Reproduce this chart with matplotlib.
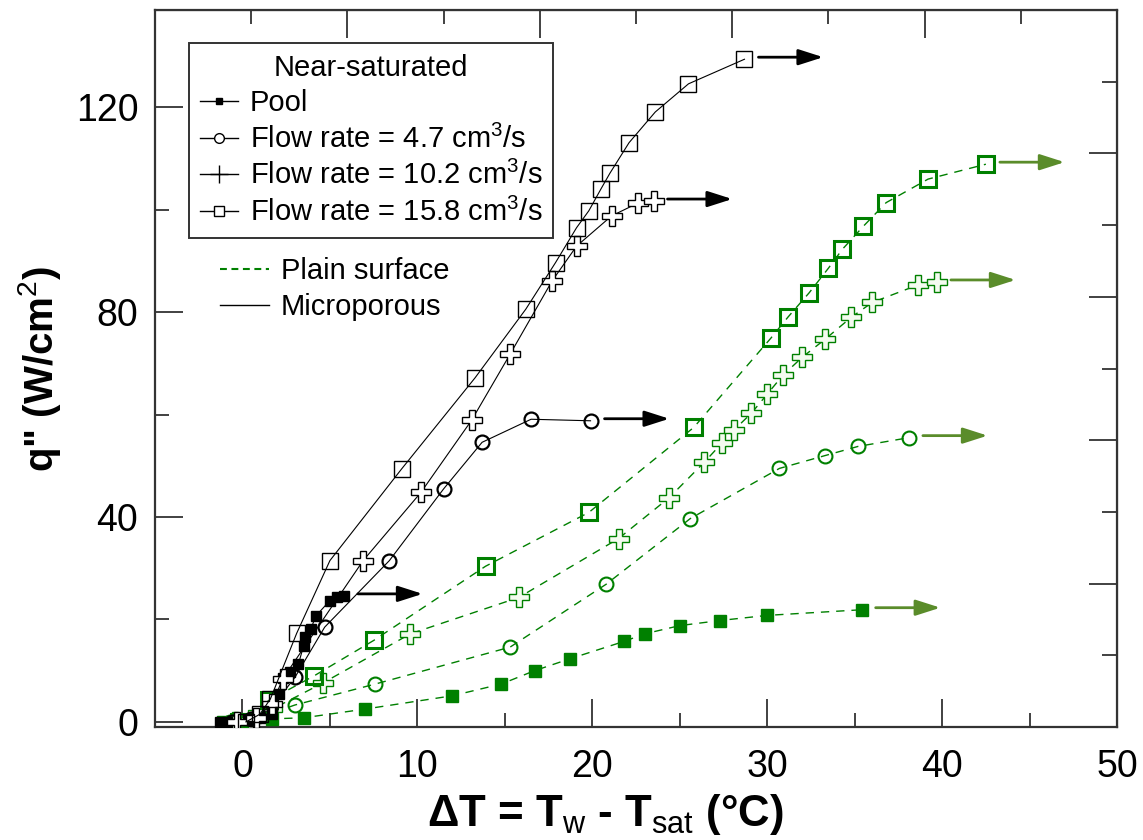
import matplotlib

matplotlib.use("Agg")

import matplotlib.pyplot as plt
from matplotlib.lines import Line2D
import numpy as np

plt.rcParams["font.family"] = ["Liberation Sans", "DejaVu Sans"]
plt.rcParams["mathtext.fontset"] = "custom"
plt.rcParams["mathtext.rm"] = "Liberation Sans"
plt.rcParams["mathtext.default"] = "rm"

# microporous surface (black, solid)
pool_mp_x = [-1.3, -0.9, 0.3, 1.0, 1.7, 2.1, 2.3, 2.7, 3.2, 3.5, 3.6, 3.9, 4.2, 5.0, 5.4, 5.8]
pool_mp_y = [0.0, 0.0, 0.3, 0.8, 1.5, 5.5, 8.6, 9.8, 11.3, 14.9, 16.5, 18.1, 20.7, 23.7, 24.3, 24.6]

f47_mp_x = [-0.6, 0.5, 1.6, 3.0, 4.7, 8.4, 11.5, 13.7, 16.5, 19.9]
f47_mp_y = [0.0, 0.5, 2.5, 8.7, 18.5, 31.5, 45.5, 54.6, 59.1, 58.8]

f102_mp_x = [-0.3, 0.8, 1.7, 2.3, 6.9, 10.2, 13.1, 15.3, 17.7, 19.1, 21.1, 22.6, 23.5]
f102_mp_y = [0.0, 0.8, 3.5, 8.4, 31.5, 44.8, 58.9, 71.8, 86.1, 92.9, 98.8, 101.3, 101.7]

f158_mp_x = [0.2, 1.0, 1.6, 3.1, 5.0, 9.1, 13.3, 16.2, 17.9, 19.1, 19.8, 20.5, 21.0,
             22.1, 23.6, 25.5, 28.7]
f158_mp_y = [0.0, 1.5, 4.5, 17.3, 31.5, 49.4, 67.2, 80.6, 89.7, 96.5, 99.8, 104.1, 107.1,
             113.1, 119.1, 124.6, 129.4]

# plain surface (green, dashed)
pool_pl_x = [-1.1, -0.6, 0.4, 1.7, 3.5, 7.0, 12.0, 14.8, 16.7, 18.7, 21.8, 23.0, 25.0, 27.3, 30.0, 35.4]
pool_pl_y = [0.0, 0.0, 0.1, 0.6, 0.8, 2.5, 5.1, 7.4, 10.0, 12.3, 15.7, 17.2, 18.8, 19.8, 20.8, 21.9]

f47_pl_x = [-0.7, 0.1, 1.5, 3.0, 7.6, 15.3, 20.8, 25.6, 30.7, 33.3, 35.2, 38.1]
f47_pl_y = [0.0, 0.2, 1.5, 3.3, 7.4, 14.6, 26.9, 39.7, 49.5, 52.0, 53.8, 55.5]

f102_pl_x = [-0.4, 0.5, 1.7, 4.6, 9.6, 15.8, 21.5, 24.4, 26.4, 27.4, 28.1, 29.1, 30.0,
             30.9, 32.0, 33.3, 34.8, 36.0, 38.6, 39.7]
f102_pl_y = [0.0, 0.3, 2.5, 7.6, 17.2, 24.3, 35.8, 43.8, 50.7, 54.4, 57.0, 60.3, 64.0,
             67.7, 71.2, 74.7, 79.0, 81.9, 85.3, 85.9]

f158_pl_x = [-0.2, 0.3, 1.5, 4.1, 7.5, 13.9, 19.8, 25.8, 30.2, 31.2, 32.4, 33.5, 34.3,
             35.5, 36.8, 39.2, 42.5]
f158_pl_y = [0.0, 0.0, 4.2, 9.0, 15.9, 30.4, 40.9, 57.5, 74.9, 79.1, 83.8, 88.6, 92.3,
             96.8, 101.4, 106.0, 108.9]

legend_labels = ["Pool", "Flow rate = 4.7 cm$^3$/s", "Flow rate = 10.2 cm$^3$/s",
                 "Flow rate = 15.8 cm$^3$/s"]

GREEN = "#008000"
ARROW_GREEN = "#5a8c2a"

fig = plt.figure(figsize=(11.43, 8.4), dpi=100)
ax = fig.add_axes([0.1356, 0.1345, 0.8417, 0.8535])

dash = (0, (6, 5))

# plain surface curves
ax.plot(pool_pl_x, pool_pl_y, color=GREEN, lw=1.0, ls=dash, marker="s", ms=8,
        mfc=GREEN, mec=GREEN, zorder=3)
ax.plot(f47_pl_x, f47_pl_y, color=GREEN, lw=1.0, ls=dash, marker="o", ms=10,
        mfc="none", mec=GREEN, mew=1.5, zorder=3)
ax.plot(f102_pl_x, f102_pl_y, color=GREEN, lw=1.0, ls=dash, marker="P", ms=14,
        mfc="#f4fbf0", mec=GREEN, mew=1.0, zorder=3)
ax.plot(f158_pl_x, f158_pl_y, color=GREEN, lw=1.0, ls=dash, marker="s", ms=11,
        mfc="none", mec=GREEN, mew=2.2, zorder=3)

# microporous curves
ax.plot(pool_mp_x, pool_mp_y, color="black", lw=0.8, marker="s", ms=7.5,
        mfc="black", mec="black", zorder=4)
ax.plot(f47_mp_x, f47_mp_y, color="black", lw=0.8, marker="o", ms=10,
        mfc="none", mec="black", mew=1.6, zorder=4)
ax.plot(f102_mp_x, f102_mp_y, color="black", lw=0.8, marker="P", ms=14,
        mfc="white", mec="black", mew=1.0, zorder=4)
ax.plot(f158_mp_x, f158_mp_y, color="black", lw=0.8, marker="s", ms=11,
        mfc="none", mec="black", mew=1.0, zorder=4)

# arrows after the last point of each curve
for xs, ys, col in [
    (pool_mp_x, pool_mp_y, "black"), (f47_mp_x, f47_mp_y, "black"),
    (f102_mp_x, f102_mp_y, "black"), (f158_mp_x, f158_mp_y, "black"),
    (pool_pl_x, pool_pl_y, ARROW_GREEN), (f47_pl_x, f47_pl_y, ARROW_GREEN),
    (f102_pl_x, f102_pl_y, ARROW_GREEN), (f158_pl_x, f158_pl_y, ARROW_GREEN),
]:
    x0 = xs[-1] + 0.8
    y0 = ys[-1] + 0.4
    ax.annotate("", xy=(x0 + 3.7, y0), xytext=(x0, y0),
                arrowprops=dict(arrowstyle="-|>,head_length=0.75,head_width=0.24",
                                color=col, lw=2.0, mutation_scale=20,
                                shrinkA=0, shrinkB=0), zorder=5)

ax.set_xlim(-5, 50)
ax.set_ylim(-1, 139)

ax.set_xticks(np.arange(0, 51, 10))
ax.set_xticks(np.arange(5, 50, 10), minor=True)
ax.set_yticks([0, 40, 80, 120])
ax.set_yticks([20, 60, 100], minor=True)
ax.tick_params(which="both", direction="in", width=1.3, color="#333333",
               labelsize=27, top=False, right=False)
ax.tick_params(which="major", length=20)
ax.tick_params(which="minor", length=10)
ax.tick_params(axis="x", pad=16)
ax.tick_params(axis="y", pad=12)

for sp in ax.spines.values():
    sp.set_linewidth(1.6)
    sp.set_color("#333333")

# top and right axes carry their own tick scale
top = ax.secondary_xaxis("top")
top.set_xticks(np.arange(-5, 51, 11))
top.set_xticks(np.arange(0.5, 50, 11), minor=True)
top.tick_params(which="both", direction="in", width=1.3, color="#333333",
                labeltop=False)
top.tick_params(which="major", length=20)
top.tick_params(which="minor", length=10)

right = ax.secondary_yaxis("right")
right.set_yticks(np.arange(-1, 140, 28))
right.set_yticks(np.arange(13, 139, 28), minor=True)
right.tick_params(which="both", direction="in", width=1.3, color="#333333",
                  labelright=False)
right.tick_params(which="major", length=20)
right.tick_params(which="minor", length=10.5)

ax.set_xlabel("ΔT = T$_{w}$ - T$_{sat}$ (°C)", fontsize=31.5, fontweight="bold")
ax.xaxis.set_label_coords(0.468, -0.09)
ax.set_ylabel('q" (W/cm$^{2}$)', fontsize=29, fontweight="bold", labelpad=9)

handles = [
    Line2D([], [], color="black", lw=1.0, marker="s", ms=5, mfc="black"),
    Line2D([], [], color="black", lw=1.0, marker="o", ms=7, mfc="white", mew=1.0),
    Line2D([], [], color="black", lw=1.0, marker="+", ms=13, mew=1.0),
    Line2D([], [], color="black", lw=1.0, marker="s", ms=7, mfc="white", mew=1.0),
]
leg = ax.legend(handles, legend_labels, title="Near-saturated", loc="upper left",
                bbox_to_anchor=(0.0353, 0.954), borderaxespad=0, fontsize=21,
                title_fontsize=21, handlelength=1.3, handletextpad=0.4,
                labelspacing=0.25, borderpad=0.38, fancybox=False, framealpha=1,
                edgecolor="#333333")
leg.get_frame().set_linewidth(1.4)
ax.add_artist(leg)

surf_handles = [
    Line2D([], [], color=GREEN, lw=1.5, ls=(0, (3.3, 2.2))),
    Line2D([], [], color="black", lw=1.0),
]
ax.legend(surf_handles, ["Plain surface", "Microporous"], loc="upper left",
          bbox_to_anchor=(0.055, 0.672), borderaxespad=0, fontsize=21,
          handlelength=1.7, handletextpad=0.4, labelspacing=0.28,
          frameon=False)

fig.savefig("out.png", dpi=100)
